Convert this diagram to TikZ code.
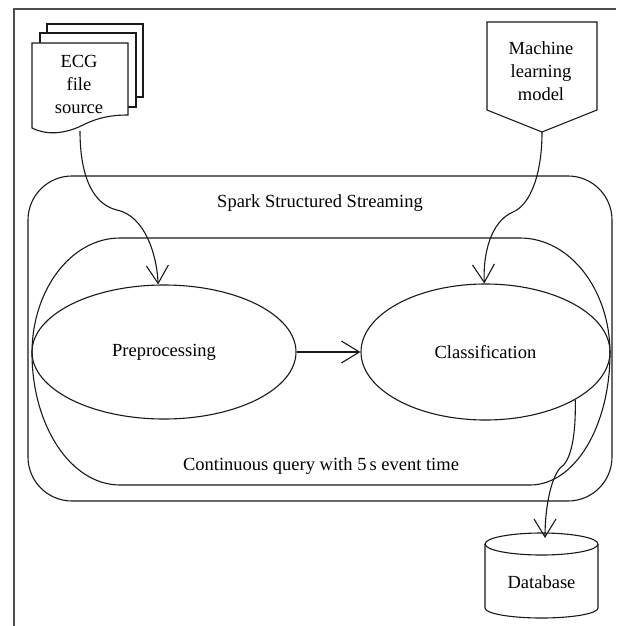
\documentclass[tikz,border=0pt]{standalone}
\usepackage{fontspec}
\setmainfont{Liberation Serif}
\usetikzlibrary{arrows.meta,shapes.geometric}
\tikzset{
  lw/.style={line width=1.1pt, draw=black!90},
  txt/.style={font=\fontsize{18.5}{23}\selectfont, align=center, inner sep=0pt},
  oval/.style={lw, ellipse, inner sep=0pt},
  flow/.style={lw, -{Straight Barb[length=18pt,width=22pt,line width=1.1pt]}},
}
\begin{document}
\begin{tikzpicture}[x=1pt,y=-1pt]
\useasboundingbox (0,0) rectangle (616,626);
% page frame
\draw[line width=1.6pt, draw=black!70] (616,9) -- (14,9) -- (14,626);

% ECG document stack
\draw[lw] (47,33) -- (47,24) -- (143,24) -- (143,97) -- (136,97);
\draw[lw] (40,43) -- (40,33) -- (136,33) -- (136,107) -- (128,107);
\draw[lw, fill=white] (32,43) -- (128,43) -- (128,115)
   .. controls (110,115) and (98,118) .. (85,124)
   .. controls (70,132) and (50,137) .. (32,128) -- cycle;
\node[txt] (ecg) at (79,84) {ECG\\file\\source};
\coordinate (ecgout) at (80,131);

% Machine learning model (off-page connector)
\draw[lw] (487,22) -- (597,22) -- (597,110) -- (542,132) -- (487,110) -- cycle;
\node[txt] (ml) at (541,71) {Machine\\learning\\model};
\coordinate (mlout) at (542,132);

% Spark Structured Streaming container
\node[lw, rounded corners=44pt, minimum width=584pt, minimum height=325pt, inner sep=0pt] (spark) at (320,338.5) {};
\node[txt] (sparklabel) at (320,203) {Spark Structured Streaming};

% Continuous query container
\draw[lw] (120,238) -- (520,238)
   .. controls (570,238) and (610,290) .. (610,353)
   .. controls (610,426) and (575,485) .. (530,485)
   -- (120,485)
   .. controls (71,485) and (32,426) .. (32,353)
   .. controls (32,290) and (71,238) .. (120,238) -- cycle;
\node[txt] (cq) at (321,466) {Continuous query with 5\,s event time};

% processing ellipses
\node[oval, minimum width=264pt, minimum height=134pt] (pre) at (164,352) {};
\node[txt] at (pre.center) {Preprocessing};
\node[oval, minimum width=249pt, minimum height=136pt] (cls) at (485.5,352) {};
\node[txt] at (cls.center) {Classification};

% Database cylinder
\coordinate (dbc) at (541.5,544);
\draw[lw] (485,544) -- (485,608) arc[start angle=180, end angle=0, x radius=56.5, y radius=10] -- (598,544);
\draw[lw] (dbc) ellipse[x radius=56.5, y radius=11];
\node[txt] (db) at (541.5,582) {Database};
\coordinate (dbin) at (545,538);

% connectors
\draw[flow] (ecgout) .. controls (80,180) and (95,205) .. (117,210)
   .. controls (145,216) and (157,255) .. (pre.95);
\draw[flow] (mlout) .. controls (542,175) and (530,205) .. (513,212)
   .. controls (490,222) and (483,255) .. (cls.91);
\draw[flow] (pre.east) -- (cls.west);
\draw[flow] (cls.332) .. controls (576,440) and (570,462) .. (560,468)
   .. controls (550,480) and (545,510) .. (dbin);
\end{tikzpicture}
\end{document}
